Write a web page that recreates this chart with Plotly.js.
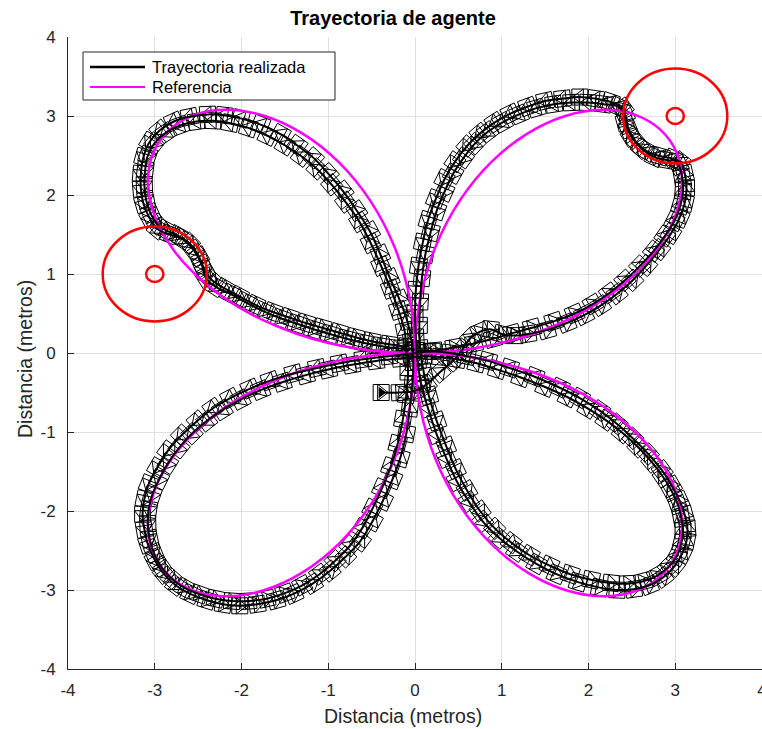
<!DOCTYPE html>
<html>
<head>
<meta charset="utf-8">
<script src="https://cdn.plot.ly/plotly-3.0.1.min.js"></script>
<style>
  html, body { margin: 0; padding: 0; background: #fff; }
  #plot { width: 762px; height: 729px; }
</style>
</head>
<body>
<div id="plot"></div>
<script>
// Reference path (four-petal rose), traversed petal by petal
const refX = [0, 0.692, 1.347, 1.932, 2.416, 2.777, 3.0, 3.079, 3.018, 2.828, 2.532, 2.156, 1.732, 1.295, 0.879, 0.518, 0.238, 0.061, 0,
  0.061, 0.238, 0.518, 0.879, 1.295, 1.732, 2.156, 2.532, 2.828, 3.018, 3.079, 3.0, 2.777, 2.416, 1.932, 1.347, 0.692, 0,
  -0.692, -1.347, -1.932, -2.416, -2.777, -3.0, -3.079, -3.018, -2.828, -2.532, -2.156, -1.732, -1.295, -0.879, -0.518, -0.238, -0.061, 0,
  -0.061, -0.238, -0.518, -0.879, -1.295, -1.732, -2.156, -2.532, -2.828, -3.018, -3.079, -3.0, -2.777, -2.416, -1.932, -1.347, -0.692, 0];
const refY = [0, 0.061, 0.238, 0.518, 0.879, 1.295, 1.732, 2.156, 2.532, 2.828, 3.018, 3.079, 3.0, 2.777, 2.416, 1.932, 1.347, 0.692, 0,
  -0.692, -1.347, -1.932, -2.416, -2.777, -3.0, -3.079, -3.018, -2.828, -2.532, -2.156, -1.732, -1.295, -0.879, -0.518, -0.238, -0.061, 0,
  -0.061, -0.238, -0.518, -0.879, -1.295, -1.732, -2.156, -2.532, -2.828, -3.018, -3.079, -3.0, -2.777, -2.416, -1.932, -1.347, -0.692, 0,
  0.692, 1.347, 1.932, 2.416, 2.777, 3.0, 3.079, 3.018, 2.828, 2.532, 2.156, 1.732, 1.295, 0.879, 0.518, 0.238, 0.061, 0];

// Agent trajectory, first lap (begins with the start run)
const lap1X = [-0.39, -0.18, 0.0, 0.13, 0.29, 0.44, 0.55, 0.64, 0.75, 0.87, 1.0, 1.15, 1.3,
  1.52, 1.75, 1.95, 2.14, 2.33, 2.51, 2.67, 2.82, 2.95, 3.05, 3.11, 3.13, 3.11, 3.06,
  2.91, 2.76, 2.61, 2.49, 2.42, 2.4,
  2.25, 2.08, 1.9, 1.7, 1.5, 1.3, 1.1, 0.92, 0.75, 0.6, 0.46, 0.34, 0.24, 0.15, 0.09, 0.04, 0.01, 0.0, 0.01,
  0.03, 0.07, 0.15, 0.25, 0.36, 0.48, 0.62, 0.78, 0.97, 1.17, 1.4, 1.63, 1.88, 2.13, 2.33, 2.52, 2.7, 2.86, 2.99, 3.08, 3.13, 3.14, 3.11, 3.05,
  2.96, 2.85, 2.69, 2.51, 2.33, 2.13, 1.9, 1.67, 1.38, 1.09, 0.84, 0.6, 0.4, 0.2,
  -0.05, -0.3, -0.6, -0.87, -1.13, -1.4, -1.67, -1.9, -2.13, -2.33, -2.51, -2.69, -2.85, -2.97, -3.07, -3.12, -3.14, -3.12, -3.08, -3.0,
  -2.9, -2.76, -2.59, -2.4, -2.21, -2.02, -1.82, -1.6, -1.4, -1.18, -0.98, -0.8, -0.63, -0.49, -0.37, -0.26, -0.17, -0.1, -0.06, -0.03, -0.02,
  -0.04, -0.09, -0.18, -0.29, -0.4, -0.52, -0.67, -0.83, -1.0, -1.17, -1.36, -1.55, -1.78, -2.01, -2.2, -2.39, -2.6, -2.78, -2.94, -3.06,
  -3.13, -3.16, -3.16, -3.13, -3.06, -2.97,
  -2.83, -2.68, -2.55, -2.46, -2.41, -2.3, -2.13, -1.95, -1.75, -1.55, -1.36, -1.17, -0.98, -0.79, -0.6, -0.4, -0.21, 0.0];
const lap1Y = [-0.5, -0.5, -0.48, -0.4, -0.24, -0.1, 0.05, 0.19, 0.27, 0.3, 0.24, 0.22, 0.24,
  0.29, 0.38, 0.48, 0.6, 0.75, 0.92, 1.11, 1.31, 1.51, 1.71, 1.9, 2.09, 2.27, 2.42,
  2.44, 2.48, 2.59, 2.74, 2.92, 3.1,
  3.18, 3.22, 3.24, 3.22, 3.19, 3.12, 3.03, 2.92, 2.78, 2.62, 2.42, 2.2, 1.95, 1.68, 1.4, 1.1, 0.8, 0.5, 0.2,
  -0.1, -0.39, -0.7, -1.03, -1.33, -1.62, -1.88, -2.13, -2.34, -2.51, -2.67, -2.8, -2.9, -2.97, -3.0, -2.99, -2.94, -2.84, -2.7, -2.54, -2.38, -2.22, -2.05, -1.87,
  -1.68, -1.49, -1.28, -1.08, -0.9, -0.73, -0.57, -0.44, -0.3, -0.19, -0.1, -0.04, 0.0, 0.02,
  -0.01, -0.04, -0.08, -0.13, -0.19, -0.26, -0.35, -0.45, -0.57, -0.7, -0.86, -1.04, -1.24, -1.45, -1.66, -1.85, -2.04, -2.23, -2.42, -2.62,
  -2.79, -2.94, -3.05, -3.13, -3.18, -3.2, -3.18, -3.13, -3.05, -2.92, -2.76, -2.58, -2.38, -2.13, -1.87, -1.6, -1.33, -1.02, -0.7, -0.4, -0.12,
  0.15, 0.41, 0.68, 0.95, 1.25, 1.54, 1.8, 2.05, 2.27, 2.47, 2.63, 2.77, 2.89, 2.97, 3.01, 3.02, 2.99, 2.93, 2.82, 2.67,
  2.48, 2.27, 2.08, 1.89, 1.71, 1.57,
  1.5, 1.44, 1.3, 1.12, 0.95, 0.84, 0.75, 0.64, 0.53, 0.44, 0.37, 0.3, 0.24, 0.18, 0.13, 0.09, 0.06, 0.04];

// Agent trajectory, second lap
const lap2X = [0.02, 0.22, 0.45, 0.68, 0.9, 1.12, 1.35, 1.6, 1.84, 2.05, 2.24, 2.42, 2.59, 2.75, 2.88, 2.99, 3.06, 3.09, 3.08, 3.04,
  2.97, 2.83, 2.68, 2.55, 2.46, 2.42,
  2.34, 2.17, 1.99, 1.8, 1.6, 1.4, 1.2, 1.01, 0.84, 0.69, 0.56, 0.44, 0.34, 0.25, 0.18, 0.12, 0.08, 0.06, 0.05, 0.06,
  0.1, 0.16, 0.25, 0.36, 0.47, 0.6, 0.75, 0.92, 1.11, 1.32, 1.55, 1.79, 2.03, 2.26, 2.45, 2.63, 2.79, 2.92, 3.02, 3.07, 3.09, 3.07, 3.03,
  2.96, 2.86, 2.73, 2.57, 2.39, 2.2, 1.99, 1.76, 1.5, 1.22, 0.95, 0.71, 0.49, 0.29, 0.1,
  -0.17, -0.45, -0.73, -1.0, -1.26, -1.53, -1.78, -2.01, -2.22, -2.4, -2.57, -2.72, -2.85, -2.95, -3.03, -3.07, -3.08, -3.06, -3.01, -2.93,
  -2.81, -2.66, -2.49, -2.3, -2.11, -1.92, -1.71, -1.5, -1.3, -1.1, -0.92, -0.75, -0.61, -0.49, -0.38, -0.28, -0.2, -0.14, -0.1, -0.08,
  -0.1, -0.12, -0.19, -0.28, -0.39, -0.51, -0.64, -0.8, -0.96, -1.13, -1.31, -1.5, -1.7, -1.92, -2.13, -2.33, -2.52, -2.71, -2.87, -3.0,
  -3.08, -3.11, -3.12, -3.1, -3.05, -2.97,
  -2.88, -2.74, -2.6, -2.49, -2.42, -2.34, -2.2, -2.03, -1.84, -1.64, -1.45, -1.26, -1.07, -0.88, -0.69, -0.5, -0.3, -0.1];
const lap2Y = [0.03, 0.03, 0.07, 0.12, 0.18, 0.25, 0.32, 0.4, 0.5, 0.62, 0.76, 0.92, 1.1, 1.29, 1.48, 1.67, 1.87, 2.05, 2.22, 2.38,
  2.46, 2.49, 2.55, 2.67, 2.84, 3.02,
  3.12, 3.15, 3.17, 3.17, 3.15, 3.1, 3.02, 2.92, 2.8, 2.65, 2.47, 2.27, 2.04, 1.8, 1.53, 1.25, 0.95, 0.65, 0.35, 0.06,
  -0.24, -0.54, -0.86, -1.18, -1.47, -1.74, -2.0, -2.22, -2.4, -2.56, -2.69, -2.8, -2.87, -2.91, -2.92, -2.89, -2.82, -2.71, -2.57, -2.41, -2.25, -2.09, -1.92,
  -1.75, -1.57, -1.38, -1.19, -1.01, -0.85, -0.7, -0.56, -0.43, -0.31, -0.21, -0.13, -0.08, -0.05, -0.04,
  -0.07, -0.1, -0.15, -0.21, -0.28, -0.37, -0.47, -0.59, -0.72, -0.86, -1.02, -1.2, -1.4, -1.6, -1.8, -1.98, -2.16, -2.35, -2.53, -2.7,
  -2.85, -2.97, -3.05, -3.11, -3.14, -3.14, -3.11, -3.04, -2.94, -2.8, -2.63, -2.44, -2.22, -1.97, -1.71, -1.44, -1.15, -0.84, -0.53, -0.24,
  0.03, 0.28, 0.54, 0.81, 1.1, 1.39, 1.66, 1.91, 2.13, 2.33, 2.49, 2.63, 2.75, 2.85, 2.91, 2.94, 2.93, 2.88, 2.79, 2.66,
  2.5, 2.32, 2.13, 1.94, 1.77, 1.63,
  1.56, 1.49, 1.39, 1.22, 1.04, 0.92, 0.82, 0.72, 0.61, 0.52, 0.45, 0.38, 0.32, 0.26, 0.2, 0.15, 0.11, 0.08];

// Obstacles: centre, outer radius, inner radius
const obsX = [3, -3];
const obsY = [3, 1];
const obsR = [0.6, 0.6];
const coreR = [0.1, 0.1];

// Axis ticks
const tickVals = [-4, -3, -2, -1, 0, 1, 2, 3, 4];
const tickText = ['-4', '-3', '-2', '-1', '0', '1', '2', '3', '4'];

// Text
const titleText = 'Trayectoria de agente';
const axisLabel = 'Distancia (metros)';
const legendNames = ['Trayectoria realizada', 'Referencia'];

// ---- figure geometry ----
const W = 762, H = 729;
const M = { l: 68, r: 0, t: 37, b: 60 };
const plotW = W - M.l - M.r, plotH = H - M.t - M.b;
const pxX = plotW / 8, pxY = plotH / 8;   // pixels per metre on each axis
const FONT = 'Liberation Sans, Arial, Helvetica, sans-serif';
const INK = '#262626';

// heading of the agent at each sample, in screen degrees (clockwise)
function headings(xs, ys) {
  const out = [];
  for (let i = 0; i < xs.length; i++) {
    const a = Math.max(0, i - 1), b = Math.min(xs.length - 1, i + 1);
    const dx = (xs[b] - xs[a]) * pxX, dy = (ys[b] - ys[a]) * pxY;
    out.push(-Math.atan2(dy, dx) * 180 / Math.PI);
  }
  return out;
}

const poseX = lap1X.concat(lap2X);
const poseY = lap1Y.concat(lap2Y);
const poseA = headings(lap1X, lap1Y).concat(headings(lap2X, lap2Y));

const traces = [
  { // agent body
    type: 'scatter', mode: 'markers', x: poseX, y: poseY, hoverinfo: 'skip',
    marker: { symbol: 'square-open', size: 16, angle: poseA, color: '#000', line: { width: 1, color: '#000' } }
  },
  { // agent heading
    type: 'scatter', mode: 'markers', x: poseX, y: poseY, hoverinfo: 'skip',
    marker: { symbol: 'triangle-right-open', size: 14, angle: poseA, color: '#000', line: { width: 1, color: '#000' } }
  },
  { // start pose
    type: 'scatter', mode: 'markers', x: [lap1X[0]], y: [lap1Y[0]], hoverinfo: 'skip',
    marker: { symbol: 'triangle-right', size: 10, angle: poseA[0], color: '#000', line: { width: 0 } }
  },
  {
    type: 'scatter', mode: 'lines', name: legendNames[1], x: refX, y: refY,
    line: { color: '#ff00ff', width: 2.5, shape: 'spline', smoothing: 1 }
  },
  {
    type: 'scatter', mode: 'lines', name: legendNames[0], x: lap1X, y: lap1Y,
    line: { color: '#000', width: 2, shape: 'spline', smoothing: 1 }
  },
  {
    type: 'scatter', mode: 'lines', showlegend: false, x: lap2X, y: lap2Y,
    line: { color: '#000', width: 2, shape: 'spline', smoothing: 1 }
  }
];

// obstacle rings
const shapes = [];
for (let i = 0; i < obsX.length; i++) {
  [obsR[i], coreR[i]].forEach(r => shapes.push({
    type: 'circle', xref: 'x', yref: 'y', layer: 'above',
    x0: obsX[i] - r, x1: obsX[i] + r, y0: obsY[i] - r, y1: obsY[i] + r,
    line: { color: '#ff0000', width: 2.5 }
  }));
}

// legend box drawn in paper space
const px = v => (v - M.l) / plotW;
const py = v => (H - M.b - v) / plotH;
shapes.push({ type: 'rect', xref: 'paper', yref: 'paper', layer: 'above',
  x0: px(83), x1: px(335), y0: py(100), y1: py(52),
  fillcolor: '#ffffff', line: { color: INK, width: 1 } });
const legendColors = ['#000000', '#ff00ff'];
const legendWidths = [2.5, 2];
const legendRows = [67, 87];
const annotations = [];
legendNames.forEach((name, i) => {
  shapes.push({ type: 'line', xref: 'paper', yref: 'paper', layer: 'above',
    x0: px(90), x1: px(145), y0: py(legendRows[i]), y1: py(legendRows[i]),
    line: { color: legendColors[i], width: legendWidths[i] } });
  annotations.push({ xref: 'paper', yref: 'paper', x: px(150), y: py(legendRows[i]),
    xanchor: 'left', yanchor: 'middle', showarrow: false, text: name,
    font: { family: FONT, size: 16.5, color: '#000' } });
});

// axis labels
annotations.push({ xref: 'paper', yref: 'paper', x: px(403), y: py(716),
  xanchor: 'center', yanchor: 'middle', showarrow: false, text: axisLabel,
  font: { family: FONT, size: 19.5, color: INK } });
annotations.push({ xref: 'paper', yref: 'paper', x: px(25), y: py(359),
  xanchor: 'center', yanchor: 'middle', showarrow: false, text: axisLabel, textangle: -90,
  font: { family: FONT, size: 19.5, color: INK } });

const axisBase = {
  range: [-4, 4], tickmode: 'array', tickvals: tickVals, ticktext: tickText,
  showgrid: true, gridcolor: '#dfdfdf', gridwidth: 1, zeroline: false,
  showline: true, linecolor: INK, linewidth: 1, mirror: false,
  ticks: 'inside', ticklen: 6, tickcolor: INK, tickwidth: 1,
  tickfont: { family: FONT, size: 17, color: INK },
  ticklabeloverflow: 'allow',
  automargin: false, fixedrange: true
};

const layout = {
  width: W, height: H, margin: { l: M.l, r: M.r, t: M.t, b: M.b, pad: 0 },
  paper_bgcolor: '#ffffff', plot_bgcolor: '#ffffff', showlegend: false,
  title: { text: '<b>' + titleText + '</b>', font: { family: FONT, size: 20, color: '#000' },
    x: 393 / W, xref: 'container', xanchor: 'center', y: 1 - 18 / H, yref: 'container', yanchor: 'middle' },
  xaxis: Object.assign({}, axisBase, { ticklabelstandoff: 6 }),
  yaxis: Object.assign({}, axisBase, { ticklabelstandoff: 8 }),
  shapes: shapes, annotations: annotations
};

Plotly.newPlot('plot', traces, layout, { displayModeBar: false, staticPlot: true });
</script>
</body>
</html>
